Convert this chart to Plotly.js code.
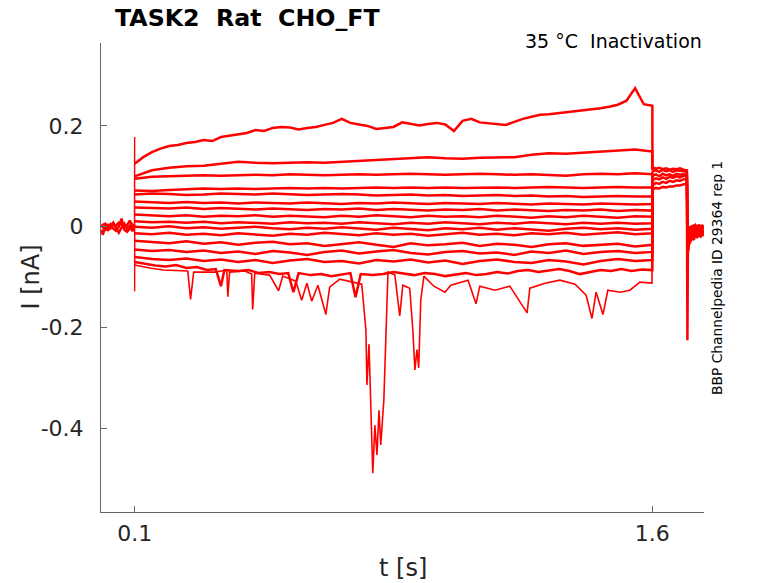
<!DOCTYPE html>
<html><head><meta charset="utf-8">
<script src="https://cdn.plot.ly/plotly-3.0.1.min.js"></script>
<style>html,body{margin:0;padding:0;background:#fff}#chart{width:778px;height:583px}</style>
</head><body><div id="chart"></div>
<script>
// ---- pre-pulse baseline (t = 0 .. 0.1 s) ----
const tPre = [0.003,0.008,0.015,0.022,0.03,0.038,0.046,0.054,0.062,0.07,0.078,0.086,0.094,0.0995];
const preA = [-0.006,-0.016,0.002,0.004,-0.003,0.006,0.002,0.008,0.004,-0.002,0.003,0.012,0.001,0.001];
const preB = [0.003,0.000,-0.006,-0.002,0.005,-0.004,-0.008,0.000,0.016,-0.006,-0.010,-0.004,0.004,-0.002];
const preC = [0.000,0.004,0.006,-0.008,0.001,0.008,-0.003,-0.012,-0.002,0.006,-0.004,0.002,-0.009,0.003];
// capacitive transient at step onset
const tOnset = [0.0995,0.1,0.1,0.1004];
const vOnset = [0.002,0.178,-0.128,-0.010];
// ---- step (t = 0.1 .. 1.6 s) ----
const tStep = [0.1,0.15,0.2,0.25,0.3,0.35,0.4,0.45,0.5,0.55,0.6,0.65,0.7,0.75,0.8,0.85,0.9,0.95,1.0,1.05,1.1,1.15,1.2,1.25,1.3,1.35,1.4,1.45,1.5,1.55,1.6];
const tFine = [0.1,0.125,0.15,0.175,0.2,0.225,0.25,0.275,0.3,0.325,0.35,0.375,0.4,0.425,0.45,0.475,0.5,0.525,0.55,0.575,0.6,0.625,0.65,0.675,0.7,0.725,0.75,0.775,0.8,0.825,0.85,0.875,0.9,0.925,0.95,0.975,1.0,1.025,1.05,1.075,1.1,1.125,1.15,1.175,1.2,1.225,1.25,1.275,1.3,1.325,1.35,1.375,1.4,1.425,1.45,1.475,1.5,1.525,1.55,1.575,1.6];
const sweep1 = [0.125,0.138,0.148,0.155,0.160,0.162,0.166,0.168,0.172,0.170,0.178,0.181,0.184,0.186,0.192,0.190,0.196,0.198,0.197,0.193,0.196,0.198,0.202,0.206,0.214,0.206,0.203,0.200,0.194,0.196,0.198,0.207,0.204,0.201,0.204,0.206,0.203,0.190,0.210,0.214,0.207,0.205,0.203,0.202,0.208,0.214,0.218,0.222,0.223,0.225,0.226,0.228,0.230,0.232,0.235,0.238,0.242,0.250,0.275,0.243,0.240];
const sweep2 = [0.100,0.112,0.117,0.120,0.121,0.125,0.129,0.127,0.126,0.127,0.128,0.127,0.129,0.131,0.132,0.134,0.136,0.138,0.136,0.135,0.137,0.137,0.138,0.143,0.146,0.145,0.147,0.148,0.150,0.153,0.149];
const sweep3 = [0.095,0.099,0.100,0.101,0.102,0.101,0.102,0.103,0.102,0.104,0.103,0.102,0.103,0.104,0.103,0.104,0.105,0.104,0.103,0.104,0.105,0.104,0.103,0.104,0.103,0.101,0.104,0.105,0.104,0.106,0.104];
const sweep4 = [0.072,0.071,0.073,0.074,0.076,0.075,0.076,0.075,0.076,0.077,0.076,0.077,0.076,0.077,0.078,0.077,0.078,0.077,0.078,0.077,0.078,0.078,0.077,0.078,0.079,0.078,0.077,0.078,0.079,0.078,0.078];
const sweep5 = [0.064,0.066,0.065,0.063,0.064,0.066,0.065,0.064,0.066,0.065,0.063,0.064,0.065,0.064,0.062,0.063,0.064,0.062,0.063,0.061,0.062,0.063,0.061,0.062,0.060,0.061,0.059,0.060,0.061,0.060,0.060];
const sweep6 = [0.050,0.048,0.047,0.049,0.047,0.048,0.046,0.048,0.047,0.046,0.048,0.047,0.045,0.047,0.046,0.048,0.046,0.045,0.047,0.046,0.045,0.047,0.046,0.044,0.046,0.045,0.044,0.046,0.045,0.044,0.045];
const sweep7 = [0.038,0.037,0.036,0.038,0.035,0.037,0.036,0.034,0.036,0.035,0.033,0.035,0.034,0.036,0.033,0.035,0.034,0.032,0.034,0.033,0.035,0.032,0.034,0.033,0.031,0.033,0.032,0.034,0.031,0.033,0.032];
const sweep8 = [0.024,0.022,0.021,0.023,0.020,0.022,0.021,0.023,0.020,0.022,0.021,0.019,0.022,0.020,0.023,0.021,0.019,0.022,0.020,0.021,0.019,0.022,0.020,0.018,0.021,0.019,0.022,0.020,0.018,0.021,0.020];
const sweep9 = [0.011,0.009,0.010,0.008,0.010,0.007,0.009,0.008,0.006,0.009,0.007,0.008,0.006,0.009,0.007,0.005,0.008,0.006,0.009,0.007,0.005,0.008,0.006,0.009,0.007,0.005,0.008,0.006,0.008,0.006,0.007];
const sweep10 = [0.000,-0.002,0.001,-0.003,-0.001,-0.004,-0.002,0.000,-0.003,-0.005,-0.002,-0.004,-0.001,-0.003,-0.006,-0.002,-0.004,-0.007,-0.003,-0.005,-0.002,-0.006,-0.003,-0.005,-0.008,-0.004,-0.002,-0.005,-0.003,-0.006,-0.004];
const sweep11 = [-0.013,-0.015,-0.012,-0.016,-0.014,-0.017,-0.013,-0.015,-0.018,-0.014,-0.016,-0.012,-0.015,-0.017,-0.013,-0.016,-0.014,-0.018,-0.015,-0.012,-0.016,-0.014,-0.017,-0.013,-0.015,-0.012,-0.016,-0.014,-0.011,-0.015,-0.013];
const sweep12 = [-0.028,-0.030,-0.033,-0.029,-0.034,-0.031,-0.036,-0.032,-0.030,-0.035,-0.033,-0.038,-0.034,-0.031,-0.036,-0.040,-0.033,-0.037,-0.035,-0.032,-0.038,-0.034,-0.036,-0.040,-0.035,-0.033,-0.038,-0.036,-0.034,-0.039,-0.036];
const sweep13 = [-0.045,-0.048,-0.046,-0.050,-0.047,-0.052,-0.049,-0.054,-0.048,-0.051,-0.056,-0.050,-0.047,-0.053,-0.049,-0.046,-0.052,-0.055,-0.050,-0.048,-0.053,-0.051,-0.056,-0.049,-0.052,-0.047,-0.054,-0.050,-0.048,-0.052,-0.050];
const sweep14 = [-0.060,-0.064,-0.066,-0.063,-0.068,-0.065,-0.070,-0.066,-0.072,-0.067,-0.064,-0.070,-0.068,-0.073,-0.066,-0.069,-0.065,-0.071,-0.067,-0.074,-0.068,-0.065,-0.070,-0.072,-0.066,-0.069,-0.075,-0.068,-0.064,-0.068,-0.066];
// second-lowest sweep, with its own sample times (short downward spikes)
const tSpiky = [0.1,0.13,0.16,0.19,0.22,0.25,0.28,0.31,0.335,0.35,0.36,0.40,0.43,0.46,0.49,0.52,0.545,0.56,0.575,0.61,0.64,0.67,0.70,0.725,0.74,0.755,0.79,0.82,0.85,0.88,0.91,0.94,0.97,1.0,1.03,1.06,1.09,1.12,1.15,1.18,1.21,1.24,1.27,1.30,1.33,1.36,1.39,1.42,1.45,1.48,1.51,1.54,1.57,1.6];
const sweep15 = [-0.070,-0.074,-0.077,-0.079,-0.076,-0.082,-0.080,-0.086,-0.084,-0.118,-0.086,-0.088,-0.086,-0.092,-0.090,-0.094,-0.092,-0.130,-0.092,-0.096,-0.094,-0.098,-0.095,-0.092,-0.140,-0.094,-0.096,-0.094,-0.090,-0.093,-0.096,-0.092,-0.094,-0.098,-0.095,-0.092,-0.096,-0.094,-0.090,-0.093,-0.088,-0.086,-0.090,-0.087,-0.084,-0.088,-0.094,-0.090,-0.086,-0.088,-0.084,-0.088,-0.085,-0.086];
// bottom sweep with the large transient dips
const tDip = [0.1,0.1435,0.184,0.254,0.262,0.271,0.332,0.367,0.370,0.375,0.419,0.439,0.442,0.448,0.491,0.517,0.529,0.567,0.584,0.599,0.613,0.631,0.654,0.665,0.694,0.729,0.758,0.770,0.773,0.779,0.784,0.790,0.796,0.802,0.808,0.813,0.822,0.828,0.834,0.854,0.868,0.877,0.897,0.906,0.912,0.918,0.923,0.929,0.938,0.967,0.999,1.016,1.066,1.089,1.100,1.144,1.187,1.237,1.245,1.289,1.332,1.376,1.408,1.425,1.437,1.457,1.471,1.506,1.535,1.564,1.599];
const sweep16 = [-0.076,-0.082,-0.086,-0.088,-0.144,-0.090,-0.090,-0.086,-0.139,-0.090,-0.088,-0.094,-0.164,-0.092,-0.096,-0.127,-0.098,-0.108,-0.146,-0.112,-0.148,-0.116,-0.174,-0.120,-0.104,-0.110,-0.114,-0.205,-0.314,-0.233,-0.344,-0.489,-0.394,-0.453,-0.364,-0.433,-0.344,-0.205,-0.090,-0.096,-0.177,-0.116,-0.122,-0.205,-0.284,-0.244,-0.280,-0.145,-0.098,-0.118,-0.130,-0.116,-0.106,-0.153,-0.118,-0.126,-0.118,-0.171,-0.122,-0.112,-0.106,-0.114,-0.136,-0.182,-0.130,-0.174,-0.126,-0.130,-0.126,-0.110,-0.112];
// value each sweep jumps to at step offset
const tOffset = 1.6002;
const offsetJump = [0.114,0.112,0.110,0.106,0.102,0.099,0.096,0.093,0.090,0.088,0.086,0.084,0.082,0.080,0.078,0.076];
// ---- tail (t = 1.6 .. 1.75 s) ----
const tTail = [1.6,1.61,1.62,1.63,1.64,1.65,1.66,1.67,1.68,1.69,1.70,1.7015,1.703,1.706,1.71,1.715,1.72,1.725,1.73,1.735,1.74,1.745,1.75];
const tailA = [0.118,0.115,0.117,0.114,0.116,0.113,0.115,0.114,0.116,0.113,0.112,-0.225,-0.040,-0.020,-0.006,0.002,-0.004,0.003,-0.002,0.004,-0.003,0.002,0.000];
const tailB = [0.110,0.112,0.109,0.113,0.110,0.112,0.109,0.112,0.111,0.110,0.109,-0.050,-0.030,-0.012,0.001,-0.008,0.004,-0.006,0.002,-0.005,0.003,-0.004,0.001];
const tailC = [0.101,0.104,0.100,0.105,0.102,0.104,0.101,0.105,0.103,0.104,0.103,-0.030,-0.048,-0.025,-0.015,-0.004,-0.012,0.000,-0.010,-0.002,-0.014,-0.006,-0.010];
const tailD = [0.092,0.096,0.094,0.098,0.095,0.099,0.097,0.100,0.098,0.101,0.100,-0.020,-0.035,-0.018,-0.020,-0.010,-0.018,-0.008,-0.016,-0.011,-0.020,-0.012,-0.015];
const tailE = [0.082,0.087,0.085,0.089,0.087,0.091,0.089,0.092,0.091,0.094,0.095,-0.030,-0.044,-0.030,-0.024,-0.014,-0.020,-0.012,-0.008,-0.016,-0.010,-0.018,-0.012];
const tailF = [0.074,0.077,0.076,0.079,0.078,0.080,0.080,0.082,0.082,0.084,0.086,-0.040,-0.050,-0.036,-0.028,-0.022,-0.026,-0.016,-0.022,-0.014,-0.019,-0.012,-0.017];

const xTickVals = [0.1, 1.6];
const xTickText = ['0.1', '1.6'];
const yTickVals = [-0.4, -0.2, 0, 0.2];
const yTickText = ['-0.4', '-0.2', '0', '0.2'];

const RED = '#ff0000';
const W = 2.5;
function line(x, y, w) {
  return {type: 'scatter', mode: 'lines', x: x, y: y,
          line: {color: RED, width: w || W}, hoverinfo: 'skip', showlegend: false};
}
const sweeps = [
  [tFine, sweep1], [tStep, sweep2], [tStep, sweep3], [tStep, sweep4], [tStep, sweep5],
  [tStep, sweep6], [tStep, sweep7], [tStep, sweep8], [tStep, sweep9], [tStep, sweep10],
  [tStep, sweep11], [tStep, sweep12], [tStep, sweep13], [tStep, sweep14], [tSpiky, sweep15],
  [tDip, sweep16]
];
const traces = [line(tPre, preA), line(tPre, preB), line(tPre, preC), line(tOnset, vOnset, 1.4)];
sweeps.forEach(function (s, i) {
  traces.push(line(s[0].concat([tOffset]), s[1].concat([offsetJump[i]]), i === 15 ? 1.6 : W));
});
[tailA, tailB, tailC, tailD, tailE, tailF].forEach(function (v) { traces.push(line(tTail, v)); });

const FONT = 'DejaVu Sans, sans-serif';
const layout = {
  width: 778, height: 583,
  margin: {l: 101, r: 74, t: 43, b: 71},
  paper_bgcolor: '#ffffff', plot_bgcolor: '#ffffff',
  showlegend: false,
  xaxis: {
    range: [0.0025, 1.7496], tickvals: xTickVals, ticktext: xTickText,
    ticks: 'inside', ticklen: 6, tickcolor: '#666666', tickwidth: 1,
    showline: true, linecolor: '#666666', linewidth: 1,
    showgrid: false, zeroline: false, fixedrange: true,
    tickfont: {family: FONT, size: 22, color: '#262626'}, ticklabelstandoff: 2
  },
  yaxis: {
    range: [-0.566, 0.3645], tickvals: yTickVals, ticktext: yTickText,
    ticks: 'inside', ticklen: 6, tickcolor: '#666666', tickwidth: 1,
    showline: true, linecolor: '#666666', linewidth: 1,
    showgrid: false, zeroline: false, fixedrange: true,
    tickfont: {family: FONT, size: 22, color: '#262626'}, ticklabelstandoff: 12
  },
  annotations: [
    {text: 'TASK2 \u00a0Rat \u00a0CHO_FT', xref: 'paper', yref: 'paper', x: 0.0216, y: 1.054,
     xanchor: 'left', yanchor: 'middle', showarrow: false, borderpad: 0,
     font: {family: FONT, size: 23.7, color: '#000000', weight: 'bold'}},
    {text: '35 °C \u00a0Inactivation', xref: 'paper', yref: 'paper', x: 0.9983, y: 1.0051,
     xanchor: 'right', yanchor: 'middle', showarrow: false, borderpad: 0,
     font: {family: FONT, size: 19, color: '#000000'}},
    {text: 'BBP Channelpedia ID 29364 rep 1', xref: 'paper', yref: 'paper', x: 1.0207, y: 0.5,
     xanchor: 'center', yanchor: 'middle', textangle: -90, showarrow: false, borderpad: 0,
     font: {family: FONT, size: 13.8, color: '#000000'}},
    {text: 't [s]', xref: 'paper', yref: 'paper', x: 0.5008, y: -0.119,
     xanchor: 'center', yanchor: 'middle', showarrow: false, borderpad: 0,
     font: {family: FONT, size: 24, color: '#262626'}},
    {text: 'I [nA]', xref: 'paper', yref: 'paper', x: -0.1177, y: 0.5,
     xanchor: 'center', yanchor: 'middle', textangle: -90, showarrow: false, borderpad: 0,
     font: {family: FONT, size: 24, color: '#262626'}}
  ]
};
Plotly.newPlot('chart', traces, layout, {staticPlot: true, displayModeBar: false});
</script>
</body></html>
